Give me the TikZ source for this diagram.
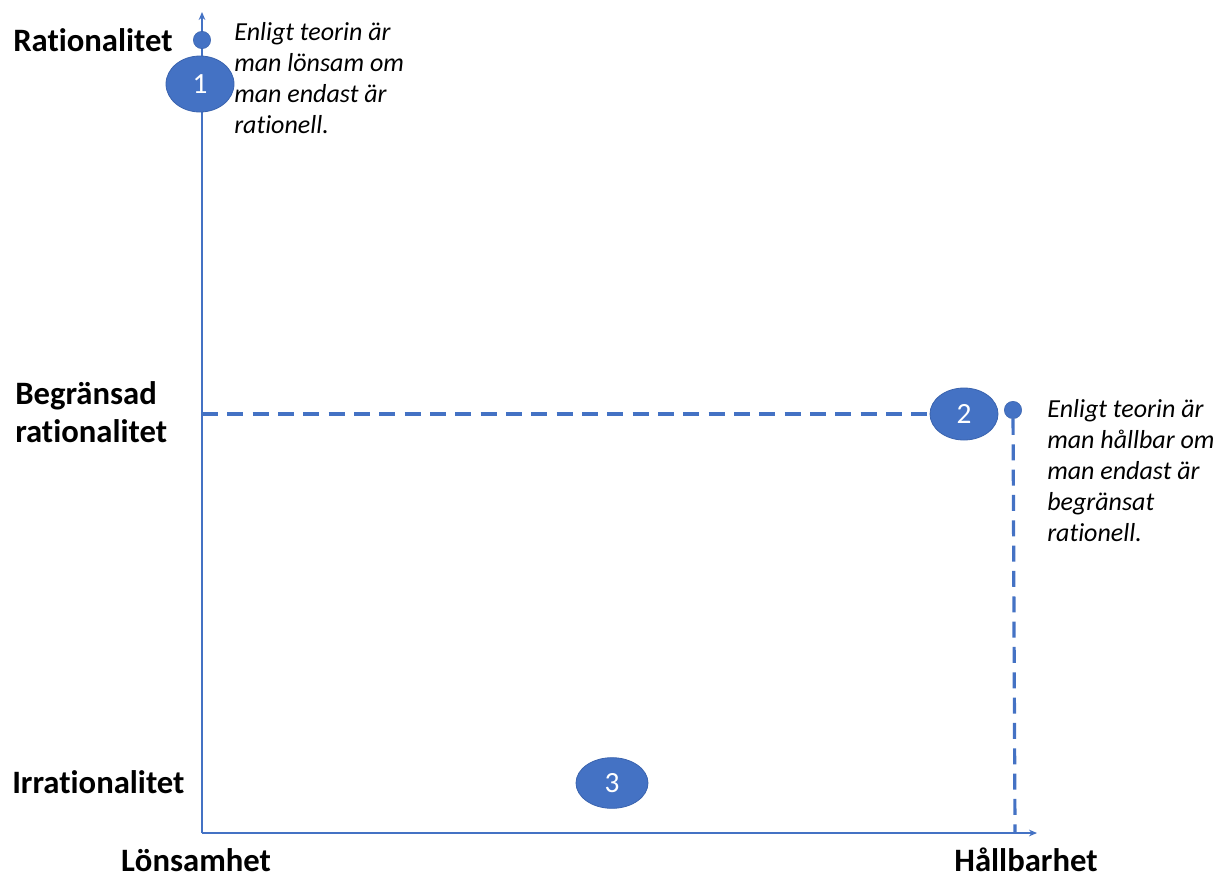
\documentclass[tikz,border=0pt]{standalone}
\usepackage{fontspec}
\setmainfont{Carlito}[Ligatures={NoCommon}]
\usetikzlibrary{arrows.meta,shapes.geometric,positioning}
\definecolor{axisblue}{HTML}{4472C4}
\definecolor{blobedge}{HTML}{3A63AE}

\begin{document}
\begin{tikzpicture}[
  x=0.75pt,y=-0.75pt,
  axis/.style={draw=axisblue,line width=1.1pt,-{Stealth[length=6pt,width=5pt]}},
  guide/.style={draw=axisblue,line width=2.4pt,dash pattern=on 12pt off 7pt},
  blob/.style={ellipse,fill=axisblue,draw=blobedge,line width=0.6pt,
               text=white,font=\fontsize{22}{26}\selectfont,inner sep=0pt},
  dot/.style={circle,fill=axisblue,draw=blobedge,line width=0.4pt,
              minimum size=13pt,inner sep=0pt},
  lvl/.style={font=\fontsize{24.5}{28.5}\selectfont\bfseries,align=left,inner sep=0pt},
  note/.style={font=\fontsize{19.5}{23.25}\selectfont\itshape,align=left,inner sep=0pt}
]
\useasboundingbox (0,0) rectangle (1220,879);
% --- axes ---
\coordinate (orig) at (202,833);
\coordinate (ytip) at (202,12);
\coordinate (xtip) at (1037,833);
\draw[axis] (orig) -- (ytip);
\draw[axis] (orig) -- (xtip);
% --- level labels ---
\node[lvl,anchor=west] (rat)  at (13,40)  {Rationalitet};
\node[lvl,anchor=west] (brat) at (15,412) {Begränsad\\rationalitet};
\node[lvl,anchor=west] (irr)  at (12,782) {Irrationalitet};
\node[lvl] (lons) at (196,860) {Lönsamhet};
\node[lvl] (hall) at (1026,860) {Hållbarhet};
% --- point 1 ---
\node[dot] (d1) at (202,40) {};
\node[blob,minimum width=51pt,minimum height=42pt] (e1) at (200,84) {1};
\node[note,anchor=north west] (n1) at (234,22)
  {Enligt teorin är\\man lönsam om\\man endast är\\rationell.};
% --- point 2 ---
\coordinate (bl) at (202,414);
\node[blob,minimum width=51pt,minimum height=39pt] (e2) at (964,414) {2};
\node[dot] (d2) at (1013,410) {};
\coordinate (bb) at (1015,833);
\draw[guide] (bl) -- (e2);
\draw[guide] (d2) -- (bb);
\node[note,anchor=north west] (n2) at (1047,399)
  {Enligt teorin är\\man hållbar om\\man endast är\\begränsat\\rationell.};
% --- point 3 ---
\node[blob,minimum width=54pt,minimum height=38pt] (e3) at (612,783) {3};
\end{tikzpicture}
\end{document}
